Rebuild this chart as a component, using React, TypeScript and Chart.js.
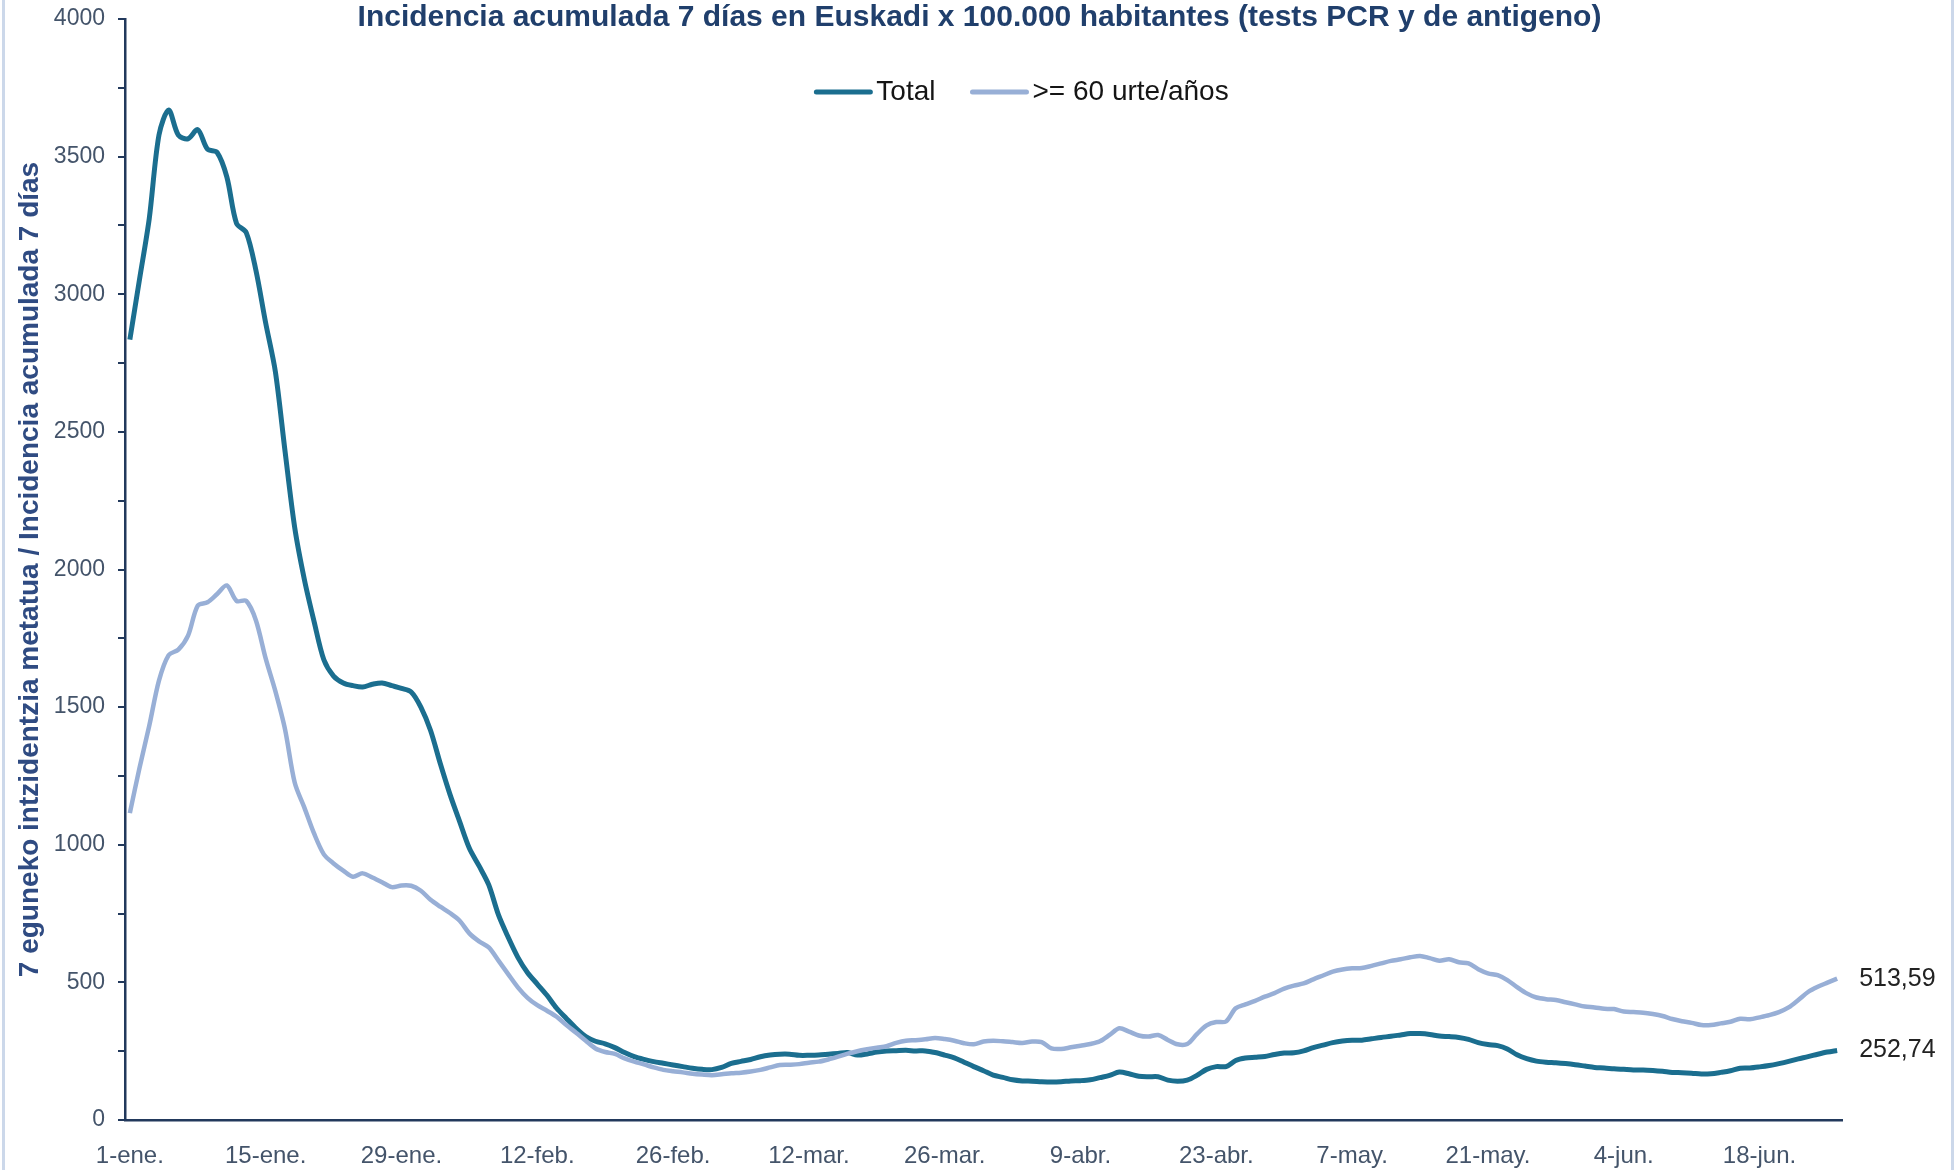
import React, { useEffect, useRef } from "react";
import { Chart, registerables } from "chart.js";

Chart.register(...registerables);

const FONT = "'Liberation Sans', Arial, sans-serif";

const TITLE = "Incidencia acumulada 7 días en Euskadi x 100.000 habitantes (tests PCR y de antigeno)";
const Y_TITLE = "7 eguneko intzidentzia metatua / Incidencia acumulada 7 días";
const SERIES_NAMES = ["Total", ">= 60 urte/años"];
const END_LABELS = ["252,74", "513,59"];

const MONTHS = ["ene.", "feb.", "mar.", "abr.", "may.", "jun."];
const MONTH_DAYS = [31, 28, 31, 30, 31, 30];
const N_DAYS = 177;
const TICK_EVERY = 14;

const Y_MIN = 0;
const Y_MAX = 4000;
const Y_STEP = 250;
const Y_LABEL_STEP = 500;

// Total population, 7-day cumulative incidence, 1-ene .. 26-jun
const total = [
  2835, 3055, 3275, 3578, 3669, 3578, 3565, 3598, 3527, 3515,
  3426, 3257, 3224, 3086, 2896, 2719, 2429, 2151, 1962, 1810,
  1672, 1613, 1588, 1578, 1573, 1583, 1588, 1578, 1568, 1555,
  1500, 1415, 1295, 1183, 1084, 987, 923, 854, 745, 664,
  591, 535, 494, 453, 406, 369, 333, 303, 286, 277,
  263, 245, 230, 220, 212, 206, 200, 194, 188, 184,
  183, 191, 206, 213, 220, 230, 236, 239, 239, 235,
  235, 236, 239, 242, 245, 236, 240, 247, 251, 252,
  253, 251, 251, 245, 236, 226, 210, 194, 179, 163,
  155, 146, 142, 141, 139, 138, 139, 142, 143, 146,
  154, 162, 174, 168, 159, 157, 157, 145, 141, 145,
  162, 184, 194, 194, 216, 225, 228, 231, 238, 243,
  244, 251, 263, 272, 281, 287, 290, 290, 295, 300,
  304, 309, 314, 314, 311, 305, 303, 300, 293, 281,
  274, 270, 258, 237, 223, 214, 210, 208, 205, 201,
  196, 191, 189, 186, 184, 182, 182, 180, 177, 173,
  172, 170, 167, 168, 173, 179, 188, 189, 193, 198,
  205, 213, 222, 230, 239, 247, 252.74,
];

// >= 60 years
const over60 = [
  1115, 1280, 1432, 1596, 1689, 1709, 1760, 1869, 1881, 1911,
  1942, 1886, 1886, 1815, 1677, 1558, 1419, 1225, 1134, 1040,
  965, 932, 906, 884, 896, 881, 864, 846, 852, 851,
  833, 800, 775, 752, 724, 678, 649, 627, 579, 530,
  482, 444, 417, 397, 375, 345, 317, 288, 260, 247,
  240, 224, 212, 202, 191, 182, 177, 173, 168, 165,
  163, 166, 170, 172, 176, 182, 191, 200, 201, 203,
  208, 212, 220, 230, 241, 250, 257, 263, 268, 280,
  288, 290, 293, 298, 294, 288, 279, 275, 285, 288,
  286, 283, 280, 285, 283, 260, 258, 264, 270, 276,
  286, 309, 333, 321, 307, 303, 309, 291, 275, 276,
  312, 344, 356, 358, 406, 420, 433, 448, 461, 477,
  488, 496, 511, 525, 539, 547, 551, 552, 560, 569,
  578, 584, 591, 596, 588, 579, 584, 573, 569, 548,
  533, 526, 508, 483, 460, 445, 439, 436, 428, 420,
  412, 409, 404, 403, 394, 392, 390, 385, 378, 367,
  359, 353, 345, 345, 351, 357, 368, 366, 373, 381,
  392, 409, 436, 465, 484, 499, 513.59,
];

const dateLabels: string[] = [];
MONTHS.forEach((m, i) => {
  for (let d = 1; d <= MONTH_DAYS[i]; d++) dateLabels.push(`${d}-${m}`);
});
const labels = dateLabels.slice(0, N_DAYS);

const COLORS = ["#1b6e8f", "#98afd6"];
const TITLE_COLOR = "#203f6c";
const AXIS_COLOR = "#22395c";
const TICK_COLOR = "#44546a";
const YTITLE_COLOR = "#2f4b82";

const overlayPlugin = {
  id: "overlay",
  afterDraw(chart: any) {
    const ctx = chart.ctx as CanvasRenderingContext2D;
    const area = chart.chartArea;
    ctx.save();
    // Title
    ctx.font = `bold 30px ${FONT}`;
    ctx.fillStyle = TITLE_COLOR;
    ctx.textAlign = "center";
    ctx.textBaseline = "middle";
    ctx.fillText(TITLE, chart.width / 2, 18);

    // Legend
    ctx.font = `28px ${FONT}`;
    const lineLen = 54;
    const gap = 6;
    const itemSpacing = 37;
    const widths = SERIES_NAMES.map((n) => ctx.measureText(n).width);
    const totalW = widths.reduce((a, w) => a + lineLen + gap + w, 0) + itemSpacing * (SERIES_NAMES.length - 1);
    let x = (area.left + area.right) / 2 + 39 - totalW / 2;
    const ly = 92;
    SERIES_NAMES.forEach((name, i) => {
      ctx.strokeStyle = COLORS[i];
      ctx.lineWidth = 5;
      ctx.lineCap = "round";
      ctx.beginPath();
      ctx.moveTo(x, ly);
      ctx.lineTo(x + lineLen, ly);
      ctx.stroke();
      ctx.fillStyle = "#151515";
      ctx.textAlign = "left";
      ctx.textBaseline = "middle";
      ctx.fillText(name, x + lineLen + gap, ly);
      x += lineLen + gap + widths[i] + itemSpacing;
    });

    // End value labels
    ctx.font = `25px ${FONT}`;
    ctx.fillStyle = "#222";
    ctx.textAlign = "left";
    ctx.textBaseline = "middle";
    chart.data.datasets.forEach((_ds: any, i: number) => {
      const meta = chart.getDatasetMeta(i);
      const pt = meta.data[meta.data.length - 1];
      if (pt) ctx.fillText(END_LABELS[i], pt.x + 22, pt.y);
    });
    ctx.restore();
  },
};

export default function App() {
  const canvasRef = useRef<HTMLCanvasElement | null>(null);

  useEffect(() => {
    if (!canvasRef.current) return;
    const chart = new Chart(canvasRef.current, {
      type: "line",
      data: {
        labels,
        datasets: [
          {
            label: SERIES_NAMES[0],
            data: total,
            borderColor: COLORS[0],
            backgroundColor: COLORS[0],
            borderWidth: 5,
            pointRadius: 0,
            tension: 0.3,
            order: 1,
          },
          {
            label: SERIES_NAMES[1],
            data: over60,
            borderColor: COLORS[1],
            backgroundColor: COLORS[1],
            borderWidth: 4.5,
            pointRadius: 0,
            tension: 0.3,
            order: 0,
          },
        ],
      },
      options: {
        animation: false,
        responsive: false,
        maintainAspectRatio: false,
        layout: { padding: { left: 0, right: 117, top: 19, bottom: 0 } },
        plugins: {
          legend: { display: false },
          title: { display: false },
          tooltip: { enabled: false },
        },
        scales: {
          x: {
            type: "category",
            offset: true,
            grid: { display: false, drawTicks: false },
            border: { display: true, color: AXIS_COLOR, width: 2.5 },
            ticks: {
              autoSkip: false,
              maxRotation: 0,
              minRotation: 0,
              padding: 22,
              color: TICK_COLOR,
              font: { family: FONT, size: 24 },
              callback: (_v: any, idx: number) => (idx % TICK_EVERY === 0 ? labels[idx] : null),
            },
            afterFit: (scale: any) => {
              scale.height = 50;
              scale.paddingLeft = 0;
              scale.paddingRight = 0;
            },
          },
          y: {
            min: Y_MIN,
            max: Y_MAX,
            grid: {
              display: true,
              drawOnChartArea: false,
              drawTicks: true,
              tickLength: 7,
              color: AXIS_COLOR,
              lineWidth: 2,
            },
            border: { display: true, color: AXIS_COLOR, width: 2.5 },
            ticks: {
              stepSize: Y_STEP,
              padding: 13,
              color: TICK_COLOR,
              font: { family: FONT, size: 23 },
              callback: (v: any) => (Number(v) % Y_LABEL_STEP === 0 ? String(v) : ""),
            },
            title: {
              display: true,
              text: Y_TITLE,
              color: YTITLE_COLOR,
              font: { family: FONT, size: 28, weight: "bold" },
              padding: { top: 13, bottom: 0 },
            },
            afterFit: (scale: any) => {
              scale.width = 125;
              scale.paddingTop = 0;
              scale.paddingBottom = 0;
            },
          },
        },
      },
      plugins: [overlayPlugin],
    } as any);
    return () => chart.destroy();
  }, []);

  return (
    <div
      style={{
        position: "fixed",
        left: 0,
        top: 0,
        width: 1959,
        height: 1170,
        background: "#ffffff",
        overflow: "hidden",
      }}
    >
      <canvas ref={canvasRef} width={1959} height={1170} style={{ width: 1959, height: 1170, display: "block" }} />
      <div style={{ position: "absolute", left: 2, top: 0, width: 3, height: 1170, background: "#ccd8ea" }} />
      <div style={{ position: "absolute", left: 1951, top: 0, width: 3, height: 1170, background: "#ccd8ea" }} />
    </div>
  );
}
